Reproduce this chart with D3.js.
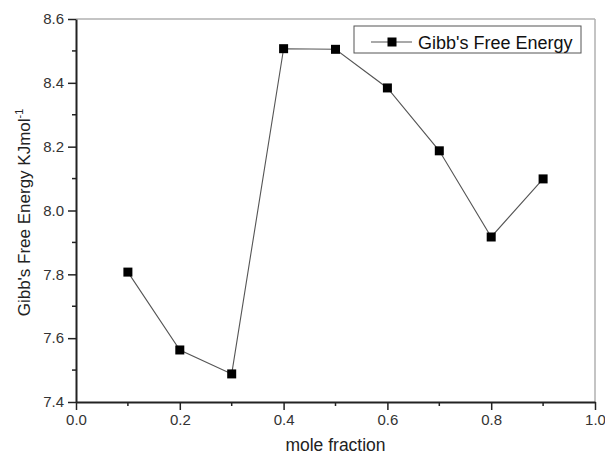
<!DOCTYPE html>
<html>
<head>
<meta charset="utf-8">
<script src="https://cdn.jsdelivr.net/npm/d3@7"></script>
<style>
  html, body { margin: 0; padding: 0; background: #fff; }
  svg { display: block; font-family: "Liberation Sans", Arial, sans-serif; }
</style>
</head>
<body>
<svg id="chart" width="605" height="455"></svg>
<script>
// Gibbs free energy against mole fraction
const moleFraction = [0.1, 0.2, 0.3, 0.4, 0.5, 0.6, 0.7, 0.8, 0.9];
const gibbsEnergy = [7.807, 7.563, 7.488, 8.507, 8.505, 8.384, 8.187, 7.917, 8.099];
const xTicks = [0.0, 0.2, 0.4, 0.6, 0.8, 1.0];
const yTicks = [7.4, 7.6, 7.8, 8.0, 8.2, 8.4, 8.6];
const seriesName = "Gibb's Free Energy";

const svg = d3.select("#chart");
const m = { left: 76, right: 595, top: 19, bottom: 402 };

const x = d3.scaleLinear().domain([0, 1]).range([m.left, m.right]);
const y = d3.scaleLinear().domain([7.4, 8.6]).range([m.bottom, m.top]);

// top and right frame lines
svg.append("line").attr("x1", m.left).attr("x2", m.right).attr("y1", m.top).attr("y2", m.top)
  .attr("stroke", "#b0b0b0").attr("stroke-width", 1.5);
svg.append("line").attr("x1", m.right).attr("x2", m.right).attr("y1", m.top).attr("y2", m.bottom)
  .attr("stroke", "#b0b0b0").attr("stroke-width", 1.5);

// minor ticks
const xMinor = [0.1, 0.3, 0.5, 0.7, 0.9];
const yMinor = [7.5, 7.7, 7.9, 8.1, 8.3, 8.5];
svg.append("g").selectAll("line").data(xMinor).join("line")
  .attr("x1", d => x(d)).attr("x2", d => x(d)).attr("y1", m.bottom).attr("y2", m.bottom + 4)
  .attr("stroke", "#222").attr("stroke-width", 1.5);
svg.append("g").selectAll("line").data(yMinor).join("line")
  .attr("y1", d => y(d)).attr("y2", d => y(d)).attr("x1", m.left).attr("x2", m.left - 4)
  .attr("stroke", "#222").attr("stroke-width", 1.5);

// axes
const xAxis = svg.append("g").attr("transform", `translate(0,${m.bottom})`)
  .call(d3.axisBottom(x).tickValues(xTicks).tickFormat(d3.format(".1f")).tickSizeOuter(0).tickSizeInner(8).tickPadding(4));
const yAxis = svg.append("g").attr("transform", `translate(${m.left},0)`)
  .call(d3.axisLeft(y).tickValues(yTicks).tickFormat(d3.format(".1f")).tickSizeOuter(0).tickSizeInner(8).tickPadding(4));
[xAxis, yAxis].forEach(g => {
  g.select(".domain").attr("stroke", "#222").attr("stroke-width", 2);
  g.selectAll(".tick line").attr("stroke", "#222").attr("stroke-width", 1.5);
  g.selectAll(".tick text").attr("fill", "#333").attr("font-size", 15)
    .attr("font-family", "Liberation Sans, Arial, sans-serif");
});

// axis titles
svg.append("text").attr("x", (m.left + m.right) / 2).attr("y", 451)
  .attr("text-anchor", "middle").attr("font-size", 17.5).attr("fill", "#222")
  .text("mole fraction");
const yt = svg.append("text")
  .attr("transform", `translate(30,${(m.top + m.bottom) / 2 + 2}) rotate(-90)`)
  .attr("text-anchor", "middle").attr("font-size", 17).attr("fill", "#222");
yt.append("tspan").text("Gibb's Free Energy KJmol");
yt.append("tspan").attr("dy", -7).attr("font-size", 11).text("-1");

// series line and markers
const pts = moleFraction.map((v, i) => [v, gibbsEnergy[i]]);
svg.append("path").datum(pts)
  .attr("d", d3.line().x(d => x(d[0])).y(d => y(d[1])))
  .attr("fill", "none").attr("stroke", "#555").attr("stroke-width", 1.1);
const ms = 9;
svg.append("g").selectAll("rect").data(pts).join("rect")
  .attr("x", d => x(d[0]) - ms / 2).attr("y", d => y(d[1]) - ms / 2)
  .attr("width", ms).attr("height", ms).attr("fill", "#000");

// legend
const lg = svg.append("g");
lg.append("rect").attr("x", 354).attr("y", 26).attr("width", 227).attr("height", 27)
  .attr("fill", "#fff").attr("stroke", "#555").attr("stroke-width", 1);
lg.append("line").attr("x1", 371).attr("x2", 412).attr("y1", 42).attr("y2", 42)
  .attr("stroke", "#555").attr("stroke-width", 1.1);
lg.append("rect").attr("x", 392 - ms / 2).attr("y", 42 - ms / 2).attr("width", ms).attr("height", ms).attr("fill", "#000");
lg.append("text").attr("x", 418).attr("y", 48.5).attr("font-size", 18).attr("fill", "#111").text(seriesName);
</script>
</body>
</html>
